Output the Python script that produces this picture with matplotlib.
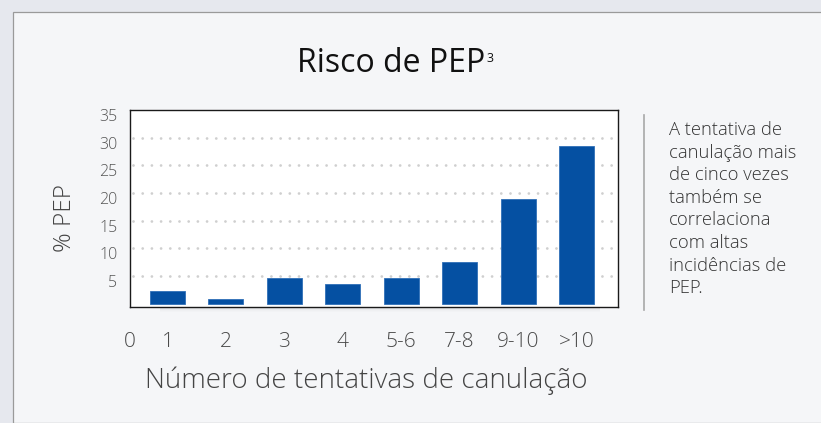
import matplotlib
matplotlib.use("Agg")
import matplotlib.pyplot as plt
from matplotlib.patches import Rectangle
import matplotlib.transforms as mtransforms

# ---- data ----
categories = ["1", "2", "3", "4", "5-6", "7-8", "9-10", ">10"]
pep_values = [2.3, 0.8, 4.6, 3.5, 4.6, 7.6, 19.0, 28.5]
xtick_labels = ["0"] + categories
yticks = [5, 10, 15, 20, 25, 30, 35]
title = "Risco de PEP"
title_sup = "3"
ylabel = "% PEP"
xlabel = "Número de tentativas de canulação"
side_text = ("A tentativa de\ncanulação mais\nde cinco vezes\ntambém se\n"
             "correlaciona\ncom altas\nincidências de\nPEP.")

FONT = ["Open Sans", "DejaVu Sans"]
plt.rcParams["font.family"] = FONT

W, H = 821, 423
fig = plt.figure(figsize=(W / 100, H / 100), dpi=100)
fig.patch.set_facecolor("#e6e8ee")

# panel
panel = Rectangle((13 / W, 0), 1, 1 - 12 / H, transform=fig.transFigure,
                  facecolor="#f5f6f8", edgecolor="#9a9a9a", linewidth=0.9, zorder=-2)
fig.patches.append(panel)

# shadow under plot area
for i, a in enumerate([0.10, 0.07, 0.045, 0.025, 0.012]):
    sh = Rectangle((160 / W, (423 - 308 - i) / H), 440 / W, 1 / H,
                   transform=fig.transFigure, facecolor="#000000", alpha=a,
                   edgecolor="none", zorder=-1)
    fig.patches.append(sh)

ax = fig.add_axes([130 / W, (H - 307) / H, 488 / W, 197 / H])
ax.set_zorder(1)
ax.set_facecolor("white")
x = list(range(len(categories)))
ax.bar(x, pep_values, width=0.6, bottom=0, color="#0550a2",
       edgecolor="#2f6fb8", linewidth=0.6, zorder=3)
ax.set_xlim(-0.642, 7.71)
ax.set_ylim(-0.58, 35)

for y in yticks[:-1]:
    ax.axhline(y, xmin=0.006, xmax=1, color="#cfcfcf", linewidth=2.0,
               linestyle=(0, (0.01, 3.3)), dash_capstyle="round", zorder=1)

for s in ax.spines.values():
    s.set_color("#1a1a1a")
    s.set_linewidth(1.0)

ax.set_yticks(yticks)
ax.set_yticklabels([str(v) for v in yticks])
ax.tick_params(axis="y", length=0, pad=9, labelsize=11.5, labelcolor="#555555")
offset = mtransforms.ScaledTranslation(0, -5 / 100, fig.dpi_scale_trans)
for lbl in ax.get_yticklabels():
    lbl.set_transform(lbl.get_transform() + offset)
    lbl.set_fontweight("light")

ax.set_xticks([-0.642] + x)
ax.set_xticklabels(xtick_labels)
ax.tick_params(axis="x", length=0, pad=18, labelsize=15, labelcolor="#4a4a4a")
for lbl in ax.get_xticklabels():
    lbl.set_fontweight("light")

ax.set_ylabel(ylabel, fontsize=17.5, color="#444444", fontweight="light")
ax.yaxis.set_label_coords(-0.108, 0.45)
ax.set_xlabel(xlabel, fontsize=20, color="#444444", fontweight="light")
ax.xaxis.set_label_coords(0.484, -0.3)

fig.text(391 / W, 1 - 64 / H, title, ha="center", va="center",
         fontsize=23, color="#111111")
fig.text(486 / W, 1 - 52 / H, title_sup, ha="left", va="top",
         fontsize=9, color="#111111")

fig.add_artist(plt.Line2D([644 / W, 644 / W], [1 - 115 / H, 1 - 310 / H],
                          transform=fig.transFigure, color="#a8a8a8", linewidth=1.2))
fig.text(669 / W, 1 - 121 / H, side_text, ha="left", va="top", fontsize=13.2,
         color="#333333", linespacing=1.33, fontweight="light")

fig.savefig("out.png", dpi=100, facecolor=fig.get_facecolor())
